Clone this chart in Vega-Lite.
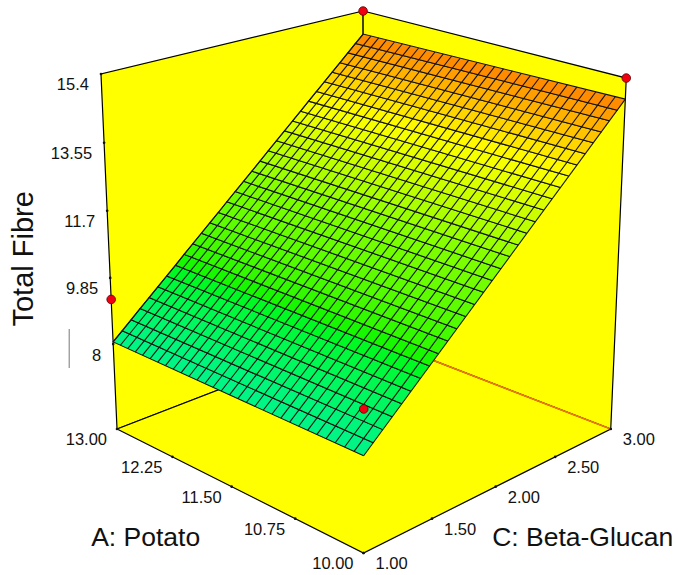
{
"$schema":"https://vega.github.io/schema/vega-lite/v6.json",
"width":679,"height":575,"padding":0,
"autosize":{"type":"none"},
"background":"white",
"config":{"view":{"stroke":null},"text":{"font":"Liberation Sans"}},
"data":{"values":[
{"k":"w","s":1,"A":[13,13,13,13,13],"C":[1,1,3,3,1],"f":[5.59,15.4,15.4,5.59,5.59],"o":[0,1,2,3,4]},
{"k":"w","s":2,"A":[13,13,10,10,13],"C":[3,3,3,3,3],"f":[5.59,15.4,15.4,5.59,5.59],"o":[0,1,2,3,4]},
{"k":"w","s":3,"A":[13,10,10,13,13],"C":[1,1,3,3,1],"f":[5.59,5.59,5.59,5.59,5.59],"o":[0,1,2,3,4]},
{"k":"e","s":1,"A":[13,10],"C":[3,3],"f":[5.59,5.59],"o":[0,1]},
{"k":"s","m":8.21,"A":[10,13,13,10],"C":[1,1,1.067,1.067],"f":[8.10,8.06,8.28,8.32],"o":[0,1,2,3]},
{"k":"s","m":8.43,"A":[10,13,13,10],"C":[1.067,1.067,1.133,1.133],"f":[8.32,8.28,8.50,8.55],"o":[0,1,2,3]},
{"k":"s","m":8.66,"A":[10,13,13,10],"C":[1.133,1.133,1.2,1.2],"f":[8.55,8.50,8.73,8.77],"o":[0,1,2,3]},
{"k":"s","m":8.88,"A":[10,13,13,10],"C":[1.2,1.2,1.267,1.267],"f":[8.77,8.73,8.95,9.00],"o":[0,1,2,3]},
{"k":"s","m":9.11,"A":[10,13,13,10],"C":[1.267,1.267,1.333,1.333],"f":[9.00,8.95,9.17,9.22],"o":[0,1,2,3]},
{"k":"s","m":9.33,"A":[10,13,13,10],"C":[1.333,1.333,1.4,1.4],"f":[9.22,9.17,9.39,9.45],"o":[0,1,2,3]},
{"k":"s","m":9.56,"A":[10,13,13,10],"C":[1.4,1.4,1.467,1.467],"f":[9.45,9.39,9.61,9.67],"o":[0,1,2,3]},
{"k":"s","m":9.78,"A":[10,13,13,10],"C":[1.467,1.467,1.533,1.533],"f":[9.67,9.61,9.84,9.89],"o":[0,1,2,3]},
{"k":"s","m":10.0,"A":[10,13,13,10],"C":[1.533,1.533,1.6,1.6],"f":[9.89,9.84,10.06,10.12],"o":[0,1,2,3]},
{"k":"s","m":10.23,"A":[10,13,13,10],"C":[1.6,1.6,1.667,1.667],"f":[10.12,10.06,10.28,10.34],"o":[0,1,2,3]},
{"k":"s","m":10.45,"A":[10,13,13,10],"C":[1.667,1.667,1.733,1.733],"f":[10.34,10.28,10.50,10.57],"o":[0,1,2,3]},
{"k":"s","m":10.68,"A":[10,13,13,10],"C":[1.733,1.733,1.8,1.8],"f":[10.57,10.50,10.72,10.79],"o":[0,1,2,3]},
{"k":"s","m":10.9,"A":[10,13,13,10],"C":[1.8,1.8,1.867,1.867],"f":[10.79,10.72,10.95,11.02],"o":[0,1,2,3]},
{"k":"s","m":11.13,"A":[10,13,13,10],"C":[1.867,1.867,1.933,1.933],"f":[11.02,10.95,11.17,11.24],"o":[0,1,2,3]},
{"k":"s","m":11.35,"A":[10,13,13,10],"C":[1.933,1.933,2,2],"f":[11.24,11.17,11.39,11.46],"o":[0,1,2,3]},
{"k":"s","m":11.57,"A":[10,13,13,10],"C":[2,2,2.067,2.067],"f":[11.46,11.39,11.61,11.69],"o":[0,1,2,3]},
{"k":"s","m":11.8,"A":[10,13,13,10],"C":[2.067,2.067,2.133,2.133],"f":[11.69,11.61,11.83,11.91],"o":[0,1,2,3]},
{"k":"s","m":12.02,"A":[10,13,13,10],"C":[2.133,2.133,2.2,2.2],"f":[11.91,11.83,12.06,12.14],"o":[0,1,2,3]},
{"k":"s","m":12.25,"A":[10,13,13,10],"C":[2.2,2.2,2.267,2.267],"f":[12.14,12.06,12.28,12.36],"o":[0,1,2,3]},
{"k":"s","m":12.47,"A":[10,13,13,10],"C":[2.267,2.267,2.333,2.333],"f":[12.36,12.28,12.50,12.59],"o":[0,1,2,3]},
{"k":"s","m":12.7,"A":[10,13,13,10],"C":[2.333,2.333,2.4,2.4],"f":[12.59,12.50,12.72,12.81],"o":[0,1,2,3]},
{"k":"s","m":12.92,"A":[10,13,13,10],"C":[2.4,2.4,2.467,2.467],"f":[12.81,12.72,12.94,13.03],"o":[0,1,2,3]},
{"k":"s","m":13.14,"A":[10,13,13,10],"C":[2.467,2.467,2.533,2.533],"f":[13.03,12.94,13.17,13.26],"o":[0,1,2,3]},
{"k":"s","m":13.37,"A":[10,13,13,10],"C":[2.533,2.533,2.6,2.6],"f":[13.26,13.17,13.39,13.48],"o":[0,1,2,3]},
{"k":"s","m":13.59,"A":[10,13,13,10],"C":[2.6,2.6,2.667,2.667],"f":[13.48,13.39,13.61,13.71],"o":[0,1,2,3]},
{"k":"s","m":13.82,"A":[10,13,13,10],"C":[2.667,2.667,2.733,2.733],"f":[13.71,13.61,13.83,13.93],"o":[0,1,2,3]},
{"k":"s","m":14.04,"A":[10,13,13,10],"C":[2.733,2.733,2.8,2.8],"f":[13.93,13.83,14.05,14.15],"o":[0,1,2,3]},
{"k":"s","m":14.26,"A":[10,13,13,10],"C":[2.8,2.8,2.867,2.867],"f":[14.15,14.05,14.28,14.38],"o":[0,1,2,3]},
{"k":"s","m":14.49,"A":[10,13,13,10],"C":[2.867,2.867,2.933,2.933],"f":[14.38,14.28,14.50,14.60],"o":[0,1,2,3]},
{"k":"s","m":14.71,"A":[10,13,13,10],"C":[2.933,2.933,3,3],"f":[14.60,14.50,14.72,14.83],"o":[0,1,2,3]},
{"k":"g","s":0,"A":[10,10],"C":[1,3],"f":[8.10,14.83],"o":[0,1]},
{"k":"g","s":1,"A":[10.1,10.1],"C":[1,3],"f":[8.10,14.83],"o":[0,1]},
{"k":"g","s":2,"A":[10.2,10.2],"C":[1,3],"f":[8.10,14.82],"o":[0,1]},
{"k":"g","s":3,"A":[10.3,10.3],"C":[1,3],"f":[8.10,14.82],"o":[0,1]},
{"k":"g","s":4,"A":[10.4,10.4],"C":[1,3],"f":[8.09,14.82],"o":[0,1]},
{"k":"g","s":5,"A":[10.5,10.5],"C":[1,3],"f":[8.09,14.81],"o":[0,1]},
{"k":"g","s":6,"A":[10.6,10.6],"C":[1,3],"f":[8.09,14.81],"o":[0,1]},
{"k":"g","s":7,"A":[10.7,10.7],"C":[1,3],"f":[8.09,14.80],"o":[0,1]},
{"k":"g","s":8,"A":[10.8,10.8],"C":[1,3],"f":[8.09,14.80],"o":[0,1]},
{"k":"g","s":9,"A":[10.9,10.9],"C":[1,3],"f":[8.09,14.80],"o":[0,1]},
{"k":"g","s":10,"A":[11,11],"C":[1,3],"f":[8.09,14.79],"o":[0,1]},
{"k":"g","s":11,"A":[11.1,11.1],"C":[1,3],"f":[8.09,14.79],"o":[0,1]},
{"k":"g","s":12,"A":[11.2,11.2],"C":[1,3],"f":[8.08,14.79],"o":[0,1]},
{"k":"g","s":13,"A":[11.3,11.3],"C":[1,3],"f":[8.08,14.78],"o":[0,1]},
{"k":"g","s":14,"A":[11.4,11.4],"C":[1,3],"f":[8.08,14.78],"o":[0,1]},
{"k":"g","s":15,"A":[11.5,11.5],"C":[1,3],"f":[8.08,14.78],"o":[0,1]},
{"k":"g","s":16,"A":[11.6,11.6],"C":[1,3],"f":[8.08,14.77],"o":[0,1]},
{"k":"g","s":17,"A":[11.7,11.7],"C":[1,3],"f":[8.08,14.77],"o":[0,1]},
{"k":"g","s":18,"A":[11.8,11.8],"C":[1,3],"f":[8.08,14.76],"o":[0,1]},
{"k":"g","s":19,"A":[11.9,11.9],"C":[1,3],"f":[8.07,14.76],"o":[0,1]},
{"k":"g","s":20,"A":[12,12],"C":[1,3],"f":[8.07,14.76],"o":[0,1]},
{"k":"g","s":21,"A":[12.1,12.1],"C":[1,3],"f":[8.07,14.75],"o":[0,1]},
{"k":"g","s":22,"A":[12.2,12.2],"C":[1,3],"f":[8.07,14.75],"o":[0,1]},
{"k":"g","s":23,"A":[12.3,12.3],"C":[1,3],"f":[8.07,14.74],"o":[0,1]},
{"k":"g","s":24,"A":[12.4,12.4],"C":[1,3],"f":[8.07,14.74],"o":[0,1]},
{"k":"g","s":25,"A":[12.5,12.5],"C":[1,3],"f":[8.07,14.74],"o":[0,1]},
{"k":"g","s":26,"A":[12.6,12.6],"C":[1,3],"f":[8.07,14.73],"o":[0,1]},
{"k":"g","s":27,"A":[12.7,12.7],"C":[1,3],"f":[8.06,14.73],"o":[0,1]},
{"k":"g","s":28,"A":[12.8,12.8],"C":[1,3],"f":[8.06,14.73],"o":[0,1]},
{"k":"g","s":29,"A":[12.9,12.9],"C":[1,3],"f":[8.06,14.72],"o":[0,1]},
{"k":"g","s":30,"A":[13,13],"C":[1,3],"f":[8.06,14.72],"o":[0,1]},
{"k":"tz","t":"15.4","A":[13],"C":[1],"f":[15.4],"o":[0]},
{"k":"tz","t":"13.55","A":[13],"C":[1],"f":[13.55],"o":[0]},
{"k":"tz","t":"11.7","A":[13],"C":[1],"f":[11.7],"o":[0]},
{"k":"tz","t":"9.85","A":[13],"C":[1],"f":[9.85],"o":[0]},
{"k":"tz","t":"8","A":[13],"C":[1],"f":[8],"o":[0]},
{"k":"ta","t":"13.00","A":[13],"C":[1],"f":[5.59],"o":[0]},
{"k":"ta","t":"12.25","A":[12.25],"C":[1],"f":[5.59],"o":[0]},
{"k":"ta","t":"11.50","A":[11.5],"C":[1],"f":[5.59],"o":[0]},
{"k":"ta","t":"10.75","A":[10.75],"C":[1],"f":[5.59],"o":[0]},
{"k":"ta","t":"10.00","A":[10],"C":[1],"f":[5.59],"o":[0]},
{"k":"tc","t":"1.00","A":[10],"C":[1],"f":[5.59],"o":[0]},
{"k":"tc","t":"1.50","A":[10],"C":[1.5],"f":[5.59],"o":[0]},
{"k":"tc","t":"2.00","A":[10],"C":[2],"f":[5.59],"o":[0]},
{"k":"tc","t":"2.50","A":[10],"C":[2.5],"f":[5.59],"o":[0]},
{"k":"tc","t":"3.00","A":[10],"C":[3],"f":[5.59],"o":[0]},
{"k":"r","A":[13],"C":[3],"f":[15.4],"o":[0]},
{"k":"r","A":[10],"C":[3],"f":[15.4],"o":[0]},
{"k":"r","A":[13],"C":[1],"f":[9.25],"o":[0]},
{"k":"r","A":[10],"C":[1],"f":[9.29],"o":[0]}
]},
"transform":[
{"flatten":["A","C","f","o"]},
{"calculate":"(datum.A-10)/3","as":"a"},
{"calculate":"(datum.C-1)/2","as":"c"},
{"calculate":"(datum.f-5.59)/9.81","as":"h"},
{"calculate":"1+0.1502*datum.a+0.1496*datum.c-0.04*datum.h","as":"w"},
{"calculate":"(363.5-228.9*datum.a+338.6*datum.c+datum.h*(-13.9-8.6*datum.a+6.7*datum.c))/datum.w","as":"px"},
{"calculate":"(553-59.6*datum.a-59.8*datum.c+datum.h*(-398.2-13.1*datum.a-8.4*datum.c))/datum.w","as":"py"}
],
"encoding":{
"x":{"field":"px","type":"quantitative","scale":{"domain":[0,679],"nice":false,"zero":false},"axis":null},
"y":{"field":"py","type":"quantitative","scale":{"domain":[575,0],"nice":false,"zero":false},"axis":null}
},
"layer":[
{"transform":[{"filter":"datum.k==='w'"}],
 "mark":{"type":"line","fill":"#ffff00","stroke":"#000000","strokeWidth":1.2,"clip":false},
 "encoding":{"detail":{"field":"s"},"order":{"field":"o"}}},
{"transform":[{"filter":"datum.k==='e'"}],
 "mark":{"type":"line","stroke":"#f57a00","strokeWidth":1.6},
 "encoding":{"detail":{"field":"s"},"order":{"field":"o"}}},
{"transform":[{"filter":"datum.k==='s'"}],
 "mark":{"type":"line","stroke":"#111111","strokeWidth":1.05},
 "encoding":{"order":{"field":"o"},
  "fill":{"field":"m","type":"quantitative","legend":null,
   "scale":{"domain":[8.1,9.7,11.5,13.3,14.8],"range":["#00f58a","#00f800","#80ff00","#ffff00","#ff8500"]}}}},
{"transform":[{"filter":"datum.k==='g'"}],
 "mark":{"type":"line","stroke":"#111111","strokeWidth":1.05},
 "encoding":{"detail":{"field":"s"},"order":{"field":"o"}}},
{"transform":[{"filter":"datum.k==='tz'||datum.k==='ta'||datum.k==='tc'"}],
 "mark":{"type":"point","filled":true,"color":"#111111","size":7,"opacity":1}},
{"transform":[{"filter":"datum.k==='tz'"}],
 "mark":{"type":"text","align":"right","baseline":"middle","dx":-12,"dy":11.5,"fontSize":16.5,"color":"#111111"},
 "encoding":{"text":{"field":"t"}}},
{"transform":[{"filter":"datum.k==='ta'"}],
 "mark":{"type":"text","align":"right","baseline":"middle","dx":-10,"dy":11,"fontSize":16.5,"color":"#111111"},
 "encoding":{"text":{"field":"t"}}},
{"transform":[{"filter":"datum.k==='tc'"}],
 "mark":{"type":"text","align":"left","baseline":"middle","dx":12,"dy":11,"fontSize":16.5,"color":"#111111"},
 "encoding":{"text":{"field":"t"}}},
{"transform":[{"filter":"datum.t==='11.50'"}],
 "mark":{"type":"text","align":"center","baseline":"middle","dx":-86,"dy":51,"fontSize":26.5,"color":"#111111"},
 "encoding":{"text":{"value":"A: Potato"}}},
{"transform":[{"filter":"datum.t==='2.00'"}],
 "mark":{"type":"text","align":"center","baseline":"middle","dx":87,"dy":51,"fontSize":26.5,"color":"#111111"},
 "encoding":{"text":{"value":"C: Beta-Glucan"}}},
{"transform":[{"filter":"datum.t==='11.7'"}],
 "mark":{"type":"text","align":"center","baseline":"middle","angle":270,"dx":-48,"dy":-83,"fontSize":29,"color":"#111111"},
 "encoding":{"text":{"value":"Total Fibre"}}},
{"transform":[{"filter":"datum.t==='8'"}],
 "mark":{"type":"tick","orient":"vertical","size":39,"thickness":1,"xOffset":-44,"yOffset":4.5,"color":"#777777","opacity":1}},
{"transform":[{"filter":"datum.k==='r'"}],
 "mark":{"type":"point","filled":true,"fill":"#f00010","stroke":"#5a0000","strokeWidth":0.8,"size":75,"opacity":1,"shape":"circle"}}
]
}
